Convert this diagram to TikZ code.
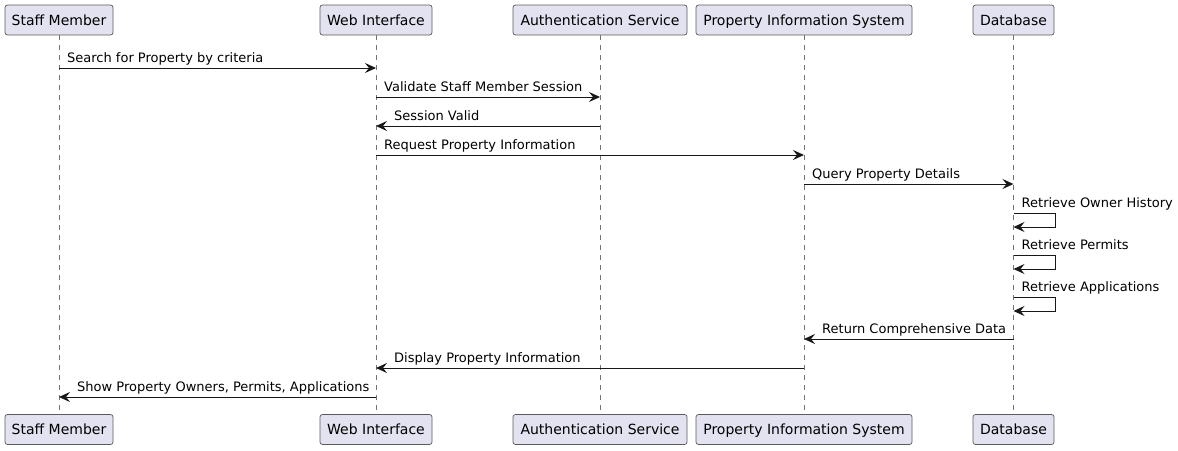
\documentclass[tikz,border=0pt]{standalone}
\usepackage{fontspec}
\setmainfont{DejaVu Sans}
\usetikzlibrary{arrows.meta}
\definecolor{boxfill}{HTML}{E2E2F0}
\definecolor{ink}{HTML}{181818}
\definecolor{boxline}{HTML}{5A5A5A}
\begin{document}
\begin{tikzpicture}[x=1pt,y=-1pt,
  participant/.style={draw=boxline, fill=boxfill, rounded corners=2.5pt, line width=0.7pt,
    minimum height=30pt, inner sep=0pt, text height=11pt, text depth=0.5pt,
    font=\fontsize{14}{16}\selectfont, text=black},
  lifeline/.style={draw=ink!60, line width=0.6pt, dash pattern=on 5pt off 5pt},
  msg/.style={draw=ink, line width=1pt, -{Stealth[length=11pt,width=10pt,inset=4pt]}},
  lbl/.style={anchor=base west, inner sep=0pt, font=\fontsize{13}{15}\selectfont, text=black}]
\useasboundingbox (0,0) rectangle (1178,450);
% participants
\node[participant, minimum width=108pt] (smT) at (59,20) {Staff Member};
\node[participant, minimum width=112pt] (wiT) at (376,20) {Web Interface};
\node[participant, minimum width=174pt] (asT) at (600,20) {Authentication Service};
\node[participant, minimum width=216pt] (pisT) at (804,20) {Property Information System};
\node[participant, minimum width=81pt] (dbT) at (1013.5,20) {Database};
\node[participant, minimum width=108pt] (smB) at (59,429.5) {Staff Member};
\node[participant, minimum width=112pt] (wiB) at (376,429.5) {Web Interface};
\node[participant, minimum width=174pt] (asB) at (600,429.5) {Authentication Service};
\node[participant, minimum width=216pt] (pisB) at (804,429.5) {Property Information System};
\node[participant, minimum width=81pt] (dbB) at (1013.5,429.5) {Database};
% lifelines
\draw[lifeline] (smT.south) -- (smB.north);
\draw[lifeline] (wiT.south) -- (wiB.north);
\draw[lifeline] (asT.south) -- (asB.north);
\draw[lifeline] (pisT.south) -- (pisB.north);
\draw[lifeline] (dbT.south) -- (dbB.north);
% message end points
\coordinate (m1a) at (59,68);   \coordinate (m1b) at (376,68);
\coordinate (m2a) at (376,97);  \coordinate (m2b) at (600,97);
\coordinate (m3a) at (600,126); \coordinate (m3b) at (376,126);
\coordinate (m4a) at (376,155); \coordinate (m4b) at (804,155);
\coordinate (m5a) at (804,184); \coordinate (m5b) at (1013.5,184);
\coordinate (m6a) at (1013.5,213); \coordinate (m6b) at (1013.5,227);
\coordinate (m7a) at (1013.5,255); \coordinate (m7b) at (1013.5,269);
\coordinate (m8a) at (1013.5,297); \coordinate (m8b) at (1013.5,311);
\coordinate (m9a) at (1013.5,339); \coordinate (m9b) at (804,339);
\coordinate (m10a) at (804,368); \coordinate (m10b) at (376,368);
\coordinate (m11a) at (376,397); \coordinate (m11b) at (59,397);
% messages
\draw[msg] (m1a) -- (m1b);
\node[lbl] (t1) at (67,62.5) {Search for Property by criteria};
\draw[msg] (m2a) -- (m2b);
\node[lbl] (t2) at (384,91.5) {Validate Staff Member Session};
\draw[msg] (m3a) -- (m3b);
\node[lbl] (t3) at (394,120.5) {Session Valid};
\draw[msg] (m4a) -- (m4b);
\node[lbl] (t4) at (384,149.5) {Request Property Information};
\draw[msg] (m5a) -- (m5b);
\node[lbl] (t5) at (812,178.5) {Query Property Details};
\draw[msg] (m6a) -- ++(42,0) |- (m6b);
\node[lbl] (t6) at (1021.5,207.5) {Retrieve Owner History};
\draw[msg] (m7a) -- ++(42,0) |- (m7b);
\node[lbl] (t7) at (1021.5,249.5) {Retrieve Permits};
\draw[msg] (m8a) -- ++(42,0) |- (m8b);
\node[lbl] (t8) at (1021.5,291.5) {Retrieve Applications};
\draw[msg] (m9a) -- (m9b);
\node[lbl] (t9) at (822,333.5) {Return Comprehensive Data};
\draw[msg] (m10a) -- (m10b);
\node[lbl] (t10) at (394,362.5) {Display Property Information};
\draw[msg] (m11a) -- (m11b);
\node[lbl] (t11) at (77,391.5) {Show Property Owners, Permits, Applications};
\end{tikzpicture}
\end{document}
